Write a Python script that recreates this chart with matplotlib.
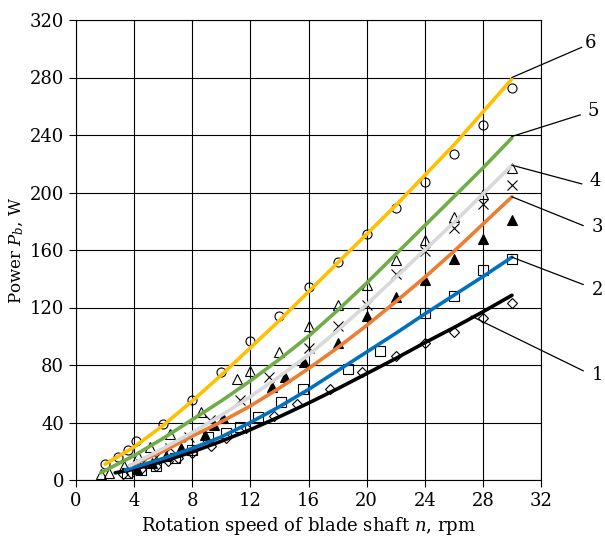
import matplotlib.pyplot as plt
import numpy as np

plt.rcParams.update({
    "font.family": "DejaVu Serif",
    "mathtext.fontset": "dejavuserif",
    "font.size": 12,
    "axes.edgecolor": "black",
    "xtick.color": "black",
    "ytick.color": "black",
})

# fitted curves
c1_x = [2.7, 4, 6, 8, 10, 12, 14, 16, 18, 20, 22, 24, 26, 28, 30]
c1_y = [5, 7.5, 13, 19.5, 27, 35, 44, 53.5, 63.5, 74, 84.5, 95.5, 106, 117, 128.5]
c2_x = [3.4, 6, 8, 10, 12, 14, 16, 18, 20, 22, 24, 26, 28, 30]
c2_y = [7, 15, 22, 30, 40, 51, 63, 76, 89, 102, 115.5, 128.5, 141.5, 155]
c3_x = [3.7, 6, 8, 10, 12, 14, 16, 18, 20, 22, 24, 26, 28, 30]
c3_y = [10, 20, 30.5, 40.5, 51.5, 64, 77.5, 92, 107.5, 124, 141, 159, 178, 197]
c4_x = [3.7, 6, 8, 10, 12, 14, 16, 18, 20, 22, 24, 26, 28, 30]
c4_y = [10, 22, 33, 45, 58, 72, 87, 104, 122, 141, 160, 179, 199, 219]
c5_x = [1.7, 4, 6, 8, 10, 12, 14, 16, 18, 20, 22, 24, 26, 28, 30]
c5_y = [5, 17, 29, 42, 55, 69, 84, 100, 118, 137, 157, 177, 197, 217, 238]
c6_x = [2, 4, 6, 8, 10, 12, 14, 16, 18, 20, 22, 24, 26, 28, 30]
c6_y = [11, 23, 38, 55, 73, 92, 111, 131, 151, 171, 191, 212, 233, 256, 279]

# measured points
m1_x = [3.2, 3.8, 4.5, 5.5, 6.3, 7, 8, 9.3, 10.3, 11.7, 13.6, 15.2, 17.5, 19.7, 22, 24, 26, 28, 30]
m1_y = [4, 5, 8, 10, 13, 15, 19, 24, 29, 36, 44.5, 53, 63.5, 75, 86, 95.5, 103, 113, 123]
m2_x = [3.5, 4.5, 5.5, 6.8, 8, 9.1, 10.3, 11.3, 12.5, 14.1, 15.6, 18.7, 20.9, 24, 26, 28, 30]
m2_y = [5, 7, 10, 15, 21, 30, 33, 37, 44, 54, 63, 77, 90, 116, 128, 146, 154]
m3_x = [4.2, 5.2, 6.2, 7.2, 8.9, 9.5, 10.1, 13.5, 14.4, 15.7, 18, 20, 22, 24, 26, 28, 30]
m3_y = [8, 12, 17, 22, 31, 38, 43, 65, 72, 82, 95, 114, 127, 139, 154, 168, 181]
m4_x = [4.5, 5.5, 6.5, 7.8, 9.2, 11.3, 13.3, 16, 18, 20, 22, 24, 26, 28, 30]
m4_y = [11, 16, 22, 30, 42, 56, 72, 92, 107, 122, 143, 159, 175, 192, 205]
m5_x = [1.7, 2.3, 3.3, 4.3, 5.1, 6.5, 8.6, 11.1, 12, 14, 16, 18, 20, 22, 24, 26, 28, 30]
m5_y = [4, 5, 10, 17, 23, 32, 47, 70, 76, 89, 107, 122, 136, 153, 167, 183, 199, 217]
m6_x = [2.0, 2.9, 3.6, 4.1, 6, 8, 10, 12, 14, 16, 18, 20, 22, 24, 26, 28, 30]
m6_y = [11, 16, 21, 27, 39, 56, 75, 97, 114, 134, 152, 171, 189, 207, 227, 247, 273]

labels = ["1", "2", "3", "4", "5", "6"]
colors = ["black", "#0070C0", "#ED7D31", "#D9D9D9", "#70AD47", "#FFC000"]

fig = plt.figure(figsize=(6.05, 5.4), dpi=100)
ax = fig.add_axes([76 / 605, 1 - 480 / 540, 465 / 605, 460 / 540])

mk = dict(linestyle="none", markersize=6.5, markeredgewidth=0.8, color="black")
ax.plot(m1_x, m1_y, marker="D", markersize=4.8, markerfacecolor="none",
        linestyle="none", markeredgewidth=0.8, color="black")
ax.plot(m2_x, m2_y, marker="s", markerfacecolor="none", **mk)
ax.plot(m3_x, m3_y, marker="^", markerfacecolor="black", **mk)
ax.plot(m4_x, m4_y, marker="x", **mk)
ax.plot(m5_x, m5_y, marker="^", markerfacecolor="none", **mk)
ax.plot(m6_x, m6_y, marker="o", markerfacecolor="none", **mk)

curves = [(c1_x, c1_y), (c2_x, c2_y), (c3_x, c3_y), (c4_x, c4_y), (c5_x, c5_y), (c6_x, c6_y)]
for (cx, cy), col in zip(curves, colors):
    ax.plot(cx, cy, color=col, linewidth=2.6, solid_capstyle="round",
            solid_joinstyle="round", zorder=3)

# leader lines and curve numbers
starts = [(27.2, 114), (30, 155), (30, 197), (30, 219), (30, 239), (30, 280)]
ends = [(34.9, 76), (34.9, 136), (34.9, 177), (34.8, 206), (34.7, 254), (34.8, 301)]
text_pos = [(35.9, 73), (35.9, 132), (35.9, 176), (35.7, 208), (35.6, 257), (35.4, 304)]
for s, e, t, lab in zip(starts, ends, text_pos, labels):
    ax.plot([s[0], e[0]], [s[1], e[1]], color="black", linewidth=0.9, clip_on=False, zorder=4)
    ax.text(t[0], t[1], lab, ha="center", va="center", fontsize=13, clip_on=False)

ax.set_xlim(0, 32)
ax.set_ylim(0, 320)
ax.set_xticks(np.arange(0, 33, 4))
ax.set_yticks(np.arange(0, 321, 40))
ax.grid(True, color="black", linewidth=0.8)
ax.set_axisbelow(True)
ax.tick_params(direction="out", length=5, width=0.8, labelsize=13)
for sp in ax.spines.values():
    sp.set_linewidth(0.8)

ax.set_xlabel("Rotation speed of blade shaft $n$, rpm", fontsize=13, labelpad=4)
ax.set_ylabel("Power $P_b$, W", fontsize=12, labelpad=3)

fig.savefig("out.png", dpi=100)
